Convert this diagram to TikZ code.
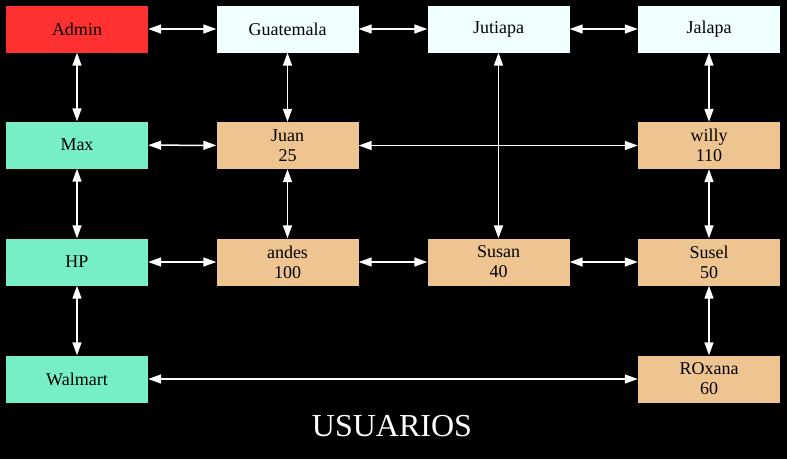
\documentclass[tikz,border=0pt]{standalone}
\usepackage{fontspec}
\setmainfont{Liberation Serif}
\usetikzlibrary{arrows.meta}
\definecolor{adminred}{HTML}{FF3030}
\definecolor{placecol}{HTML}{F0FFFF}
\definecolor{compcol}{HTML}{76EEC6}
\definecolor{usercol}{HTML}{EEC591}
\tikzstyle{cell}=[rectangle,minimum width=142pt,minimum height=47pt,inner sep=0pt,align=center,font=\fontsize{18}{20}\selectfont]
\tikzstyle{edge} = [draw,white,line width=1.5pt,{Triangle[length=13pt,width=9pt]}-{Triangle[length=13pt,width=9pt]}]

\begin{document}
\begin{tikzpicture}[x=1pt, y=-1pt]

    \fill[black] (0,0) rectangle (787,459);

     \foreach \x/\y/\name/\txt/\col in {77/29/admin/Admin/adminred,
            287.5/29/guate/Guatemala/placecol, 498.5/29/jutiapa/Jutiapa/placecol, 709/29/jalapa/Jalapa/placecol,
            77/145/max/Max/compcol, 77/262/hp/HP/compcol, 77/379/walmart/Walmart/compcol}
        \node[cell, fill=\col] (\name) at (\x, \y) {\txt};

     \foreach \x/\y/\name/\txt in {287.5/145.5/juan/{Juan\\25}, 709/145.5/willy/{willy\\110},
            287.5/262/andes/{andes\\100}, 498.5/262/susan/{Susan\\40}, 709/262/susel/{Susel\\50},
            709/379/roxana/{ROxana\\60}}
        \node[cell, fill=usercol] (\name) at (\x, \y) {\txt};

    \foreach \source/ \dest in {admin/guate, guate/jutiapa, jutiapa/jalapa,
            admin/max, max/hp, hp/walmart}
        \path[edge] (\source) -- (\dest);

    \foreach \source/ \dest in {max/juan, juan/willy, guate/juan, juan/andes,
            jutiapa/susan, jalapa/willy, willy/susel, susel/roxana,
            hp/andes, andes/susan, susan/susel, walmart/roxana}
        \path[edge] (\source) -- (\dest);

   \node[white, font=\fontsize{32}{34}\selectfont] (title) at (392,426) {USUARIOS};

\end{tikzpicture}
\end{document}
